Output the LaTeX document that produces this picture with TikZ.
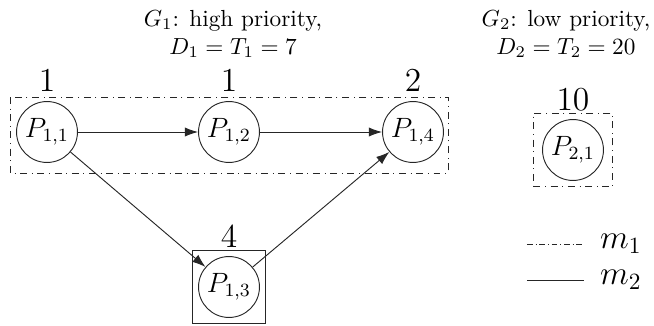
\documentclass[tikz,border=0pt]{standalone}
\usetikzlibrary{arrows.meta,positioning,fit}

\begin{document}
\begin{tikzpicture}[x=0.151mm,y=-0.151mm,
    task/.style={draw=black!85, circle, minimum size=9.2mm, inner sep=0pt, line width=0.4pt, font=\large},
    wcet/.style={font=\Large},
    edge/.style={draw=black!85, line width=0.4pt, -{Latex[length=2mm,width=1.4mm]}},
    grp/.style={draw=black!85, line width=0.4pt, dash dot}]
  \useasboundingbox (0,0) rectangle (654,325);
  % titres des deux graphes
  \node[align=center] (g1) at (233,34) {$G_1$: high priority,\\ $D_1=T_1=7$};
  \node[align=center] (g2) at (566,34) {$G_2$: low priority,\\ $D_2=T_2=20$};
  % taches de G1
  \node[task] (p11) at (47,132) {$P_{1,1}$};
  \node[task] (p12) at (229,132) {$P_{1,2}$};
  \node[task] (p14) at (413,132) {$P_{1,4}$};
  \node[task] (p13) at (229,287) {$P_{1,3}$};
  % tache de G2
  \node[task] (p21) at (573,150) {$P_{2,1}$};
  % durees
  \node[wcet] (c11) at (47,80) {1};
  \node[wcet] (c12) at (229,80) {1};
  \node[wcet] (c14) at (413,80) {2};
  \node[wcet] (c13) at (229,236) {4};
  \node[wcet] (c21) at (573,100) {10};
  % regroupements
  \draw[grp] (10,97) rectangle (448,173);
  \node[grp, fit=(p21), inner xsep=1.3mm, inner ysep=0.9mm] (b21) {};
  \node[draw=black!85, line width=0.4pt, fit=(p13), inner sep=0.8mm] (b13) {};
  % precedences
  \draw[edge] (p11) -- (p12);
  \draw[edge] (p12) -- (p14);
  \draw[edge] (p11) -- (p13);
  \draw[edge] (p13) -- (p14);
  % legende
  \coordinate (l1a) at (527,244);
  \coordinate (l1b) at (584,244);
  \coordinate (l2a) at (527,280);
  \coordinate (l2b) at (584,280);
  \draw[grp, dash pattern=on 2.5pt off 1.2pt on 0.4pt off 1.2pt] (l1a) -- (l1b);
  \draw[draw=black!85, line width=0.4pt] (l2a) -- (l2b);
  \node[font=\Large, right=1.2mm of l1b] (m1) {$m_1$};
  \node[font=\Large, right=1.2mm of l2b] (m2) {$m_2$};
\end{tikzpicture}
\end{document}
